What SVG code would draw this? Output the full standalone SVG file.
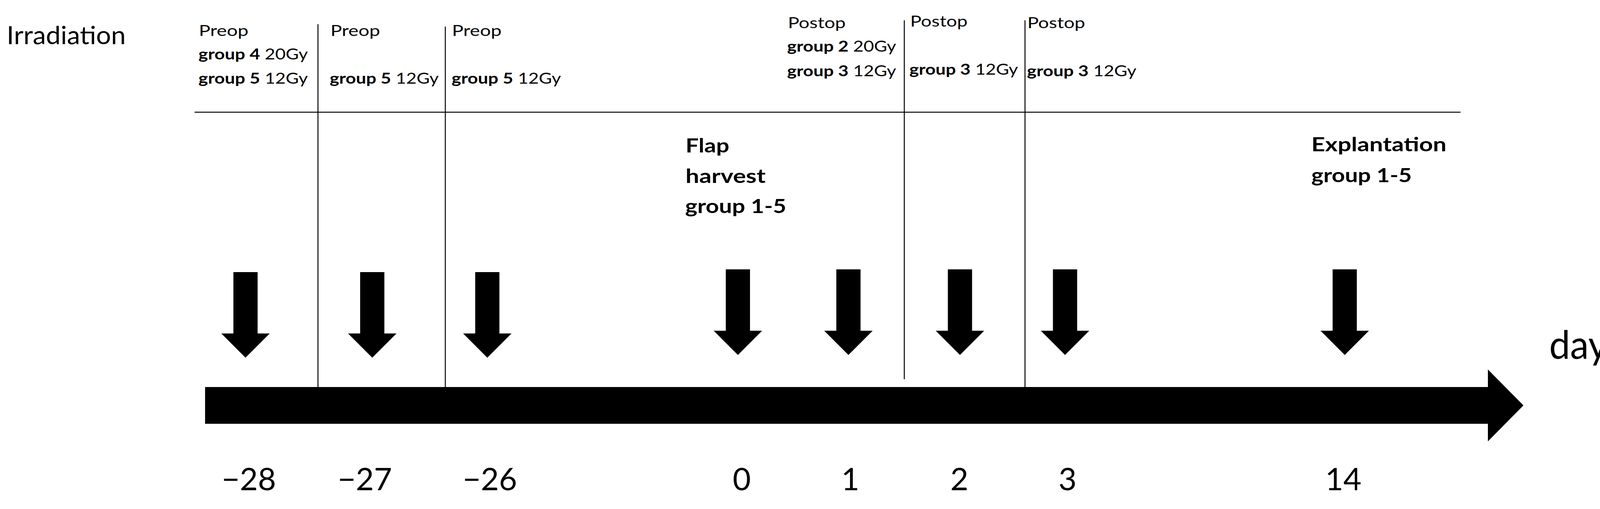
<svg xmlns="http://www.w3.org/2000/svg" xmlns:xlink="http://www.w3.org/1999/xlink" width="4179" height="1302" viewBox="0 0 4179 1302">
<style>
.t{font-family:Lato,"Liberation Sans",sans-serif;fill:#000}
.s{font-size:39px}
.b{font-weight:bold}
.lb{font-size:50px;font-weight:bold}
.num{font-size:80px;text-anchor:middle}
.ln{stroke:#000;stroke-width:2.5;fill:none}
</style>
<defs>
<path id="darrow" d="M-31,0 H31 V157 H62 L0,219 L-62,157 H-31 Z" fill="#000"/>
</defs>
<rect width="4179" height="1302" fill="#fff"/>
<g id="connectors">
<path class="ln" d="M498,287 H3739" stroke-width="3"/>
<path class="ln" d="M814,62 V990"/>
<path class="ln" d="M1140,68 V990"/>
<path class="ln" d="M2315,52 V970"/>
<path class="ln" d="M2624,52 V990"/>
</g>
<g id="timeline">
<path d="M525,990 H3809 V945 L3900,1037 L3809,1129 V1084 H525 Z" fill="#000"/>
</g>
<g id="label-irradiation"><text class="t" x="17" y="113" font-size="64" textLength="305" lengthAdjust="spacingAndGlyphs">Irradiation</text></g>
<g id="label-days"><text class="t" x="3966" y="918" font-size="100" textLength="190" lengthAdjust="spacingAndGlyphs">days</text></g>
<g id="irr-m28" class="t s">
<text x="509" y="92" textLength="127" lengthAdjust="spacingAndGlyphs">Preop</text>
<text x="508" y="152" textLength="280" lengthAdjust="spacingAndGlyphs"><tspan class="b">group 4</tspan> 20Gy</text>
<text x="508" y="214" textLength="280" lengthAdjust="spacingAndGlyphs"><tspan class="b">group 5</tspan> 12Gy</text>
</g>
<g id="irr-m27" class="t s">
<text x="846" y="92" textLength="127" lengthAdjust="spacingAndGlyphs">Preop</text>
<text x="844" y="214" textLength="279" lengthAdjust="spacingAndGlyphs"><tspan class="b">group 5</tspan> 12Gy</text>
</g>
<g id="irr-m26" class="t s">
<text x="1157" y="92" textLength="127" lengthAdjust="spacingAndGlyphs">Preop</text>
<text x="1156" y="214" textLength="280" lengthAdjust="spacingAndGlyphs"><tspan class="b">group 5</tspan> 12Gy</text>
</g>
<g id="irr-p1" class="t s">
<text x="2017" y="72" textLength="148" lengthAdjust="spacingAndGlyphs">Postop</text>
<text x="2015" y="132" textLength="279" lengthAdjust="spacingAndGlyphs"><tspan class="b">group 2</tspan> 20Gy</text>
<text x="2015" y="195" textLength="279" lengthAdjust="spacingAndGlyphs"><tspan class="b">group 3</tspan> 12Gy</text>
</g>
<g id="irr-p2" class="t s">
<text x="2330" y="68" textLength="147" lengthAdjust="spacingAndGlyphs">Postop</text>
<text x="2328" y="191" textLength="278" lengthAdjust="spacingAndGlyphs"><tspan class="b">group 3</tspan> 12Gy</text>
</g>
<g id="irr-p3" class="t s">
<text x="2630" y="72" textLength="148" lengthAdjust="spacingAndGlyphs">Postop</text>
<text x="2629" y="195" textLength="280" lengthAdjust="spacingAndGlyphs"><tspan class="b">group 3</tspan> 12Gy</text>
</g>
<g id="flap-harvest" class="t lb">
<text x="1755" y="390" textLength="112" lengthAdjust="spacingAndGlyphs">Flap</text>
<text x="1755" y="468" textLength="205" lengthAdjust="spacingAndGlyphs">harvest</text>
<text x="1754" y="545" textLength="259" lengthAdjust="spacingAndGlyphs">group 1-5</text>
</g>
<g id="explantation" class="t lb">
<text x="3357" y="387" textLength="346" lengthAdjust="spacingAndGlyphs">Explantation</text>
<text x="3357" y="466" textLength="257" lengthAdjust="spacingAndGlyphs">group 1-5</text>
</g>
<g id="arrows">
<use id="arrow-m28" xlink:href="#darrow" href="#darrow" x="628.5" y="696"/>
<use id="arrow-m27" xlink:href="#darrow" href="#darrow" x="953" y="696"/>
<use id="arrow-m26" xlink:href="#darrow" href="#darrow" x="1247.5" y="696"/>
<use id="arrow-0" xlink:href="#darrow" href="#darrow" x="1889" y="689"/>
<use id="arrow-1" xlink:href="#darrow" href="#darrow" x="2172" y="689"/>
<use id="arrow-2" xlink:href="#darrow" href="#darrow" x="2457.5" y="689"/>
<use id="arrow-3" xlink:href="#darrow" href="#darrow" x="2726.5" y="689"/>
<use id="arrow-14" xlink:href="#darrow" href="#darrow" x="3442.5" y="689"/>
</g>
<g id="day-labels" class="t num">
<text x="637" y="1254">−28</text>
<text x="934" y="1254">−27</text>
<text x="1254" y="1254">−26</text>
<text x="1899" y="1254">0</text>
<text x="2177" y="1254">1</text>
<text x="2456" y="1254">2</text>
<text x="2733" y="1254">3</text>
<text x="3439" y="1254">14</text>
</g>
</svg>
